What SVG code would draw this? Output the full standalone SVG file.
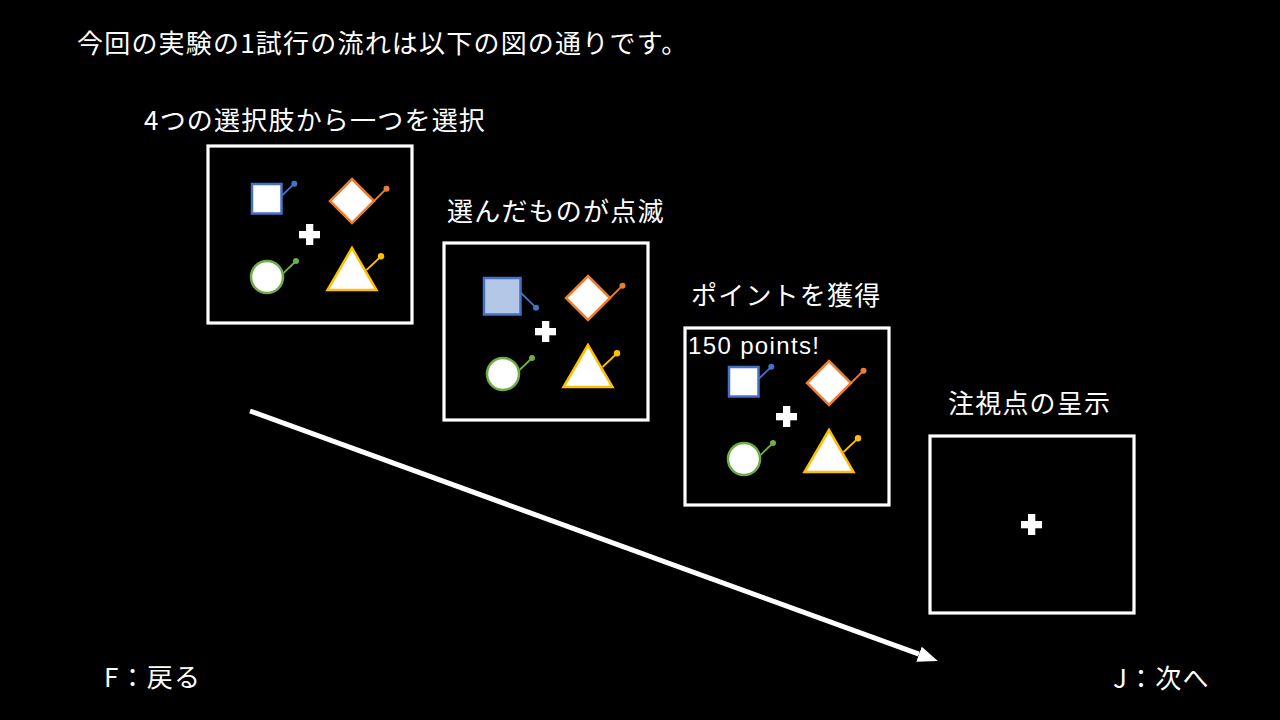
<svg xmlns="http://www.w3.org/2000/svg" xmlns:xlink="http://www.w3.org/1999/xlink" width="1280" height="720" viewBox="0 0 1280 720">
  <style>
    .jp { font-family: "Noto Sans CJK JP", "Liberation Sans", sans-serif; font-size: 26px; fill: #ffffff; letter-spacing: 1.2px; }
    .lat { font-family: "Liberation Sans", Arial, sans-serif; font-size: 24px; fill: #ffffff; }
    .frame { fill: #000000; stroke: #ffffff; stroke-width: 3.2; }
    .blue { stroke: #4472C4; }
    .orange { stroke: #ED7D31; }
    .green { stroke: #70AD47; }
    .yellow { stroke: #FFC000; }
    .shape { fill: #ffffff; stroke-width: 2.5; }
    .stick { stroke-width: 1.8; fill: none; }
    .cross { fill: #ffffff; }
  </style>
  <defs>
    <marker id="arrowhead" viewBox="0 -4 10 8" refX="0" refY="0" markerWidth="4" markerHeight="3.2" orient="auto" markerUnits="strokeWidth">
      <path d="M0,-4 L10,0 L0,4 Z" fill="#ffffff"/>
    </marker>
    <g id="plus">
      <rect x="306" y="224" width="7.3" height="21" class="cross"/>
      <rect x="299" y="231" width="21" height="7.3" class="cross"/>
    </g>
    <g id="others">
      <polygon points="352,179 374,201 352,223 330,201" class="shape orange"/>
      <line x1="372.5" y1="202.5" x2="386.5" y2="188.7" class="stick orange"/>
      <circle cx="386.5" cy="188.7" r="3" fill="#ED7D31"/>
      <circle cx="267" cy="277" r="16" class="shape green"/>
      <line x1="283.5" y1="273" x2="296" y2="261" class="stick green"/>
      <circle cx="296" cy="261" r="3" fill="#70AD47"/>
      <polygon points="352,248 327.5,290 376.5,290" class="shape yellow"/>
      <line x1="366.5" y1="270" x2="381" y2="256.3" class="stick yellow"/>
      <circle cx="381" cy="256.3" r="3.2" fill="#FFC000"/>
      <use xlink:href="#plus"/>
    </g>
    <g id="square">
      <rect x="252" y="184" width="29.5" height="29.5" class="shape blue"/>
      <line x1="281.5" y1="196" x2="294.3" y2="183.7" class="stick blue"/>
      <circle cx="294.3" cy="183.7" r="3" fill="#4472C4"/>
    </g>
  </defs>

  <rect x="0" y="0" width="1280" height="720" fill="#000000"/>

  <text class="jp" x="77" y="53">今回の実験の1試行の流れは以下の図の通りです。</text>

  <g id="panel-choose">
    <text class="jp" x="144" y="130">4つの選択肢から一つを選択</text>
    <rect x="208" y="146" width="204" height="177" class="frame"/>
    <use xlink:href="#square"/>
    <use xlink:href="#others"/>
  </g>

  <g id="panel-blink">
    <text class="jp" x="447" y="220.5">選んだものが点滅</text>
    <g transform="translate(236,97)">
      <rect x="208" y="146" width="204" height="177" class="frame"/>
      <rect x="248" y="181" width="36.5" height="36.5" fill="#B4C7E7" stroke="#4472C4" stroke-width="2.5"/>
      <line x1="284.5" y1="195.5" x2="300" y2="210.7" class="stick blue"/>
      <circle cx="300" cy="210.7" r="3" fill="#4472C4"/>
      <use xlink:href="#others"/>
    </g>
  </g>

  <g id="panel-points">
    <text class="jp" x="691" y="304.5">ポイントを獲得</text>
    <g transform="translate(477,182)">
      <rect x="208" y="146" width="204" height="177" class="frame"/>
      <use xlink:href="#square" transform="translate(0,1)"/>
      <use xlink:href="#others"/>
    </g>
    <text class="lat" x="688" y="354" textLength="131" lengthAdjust="spacing">150 points!</text>
  </g>

  <g id="panel-fixation">
    <text class="jp" x="948" y="413">注視点の呈示</text>
    <g transform="translate(722,290)">
      <rect x="208" y="146" width="204" height="177" class="frame"/>
      <use xlink:href="#plus"/>
    </g>
  </g>

  <g id="connectors">
    <line x1="250" y1="411" x2="919" y2="654.2" stroke="#ffffff" stroke-width="5" marker-end="url(#arrowhead)"/>
  </g>

  <g id="key-back">
    <text class="jp" x="104" y="687">F：戻る</text>
  </g>
  <g id="key-next">
    <text class="jp" x="1113" y="688">J：次へ</text>
  </g>
</svg>
